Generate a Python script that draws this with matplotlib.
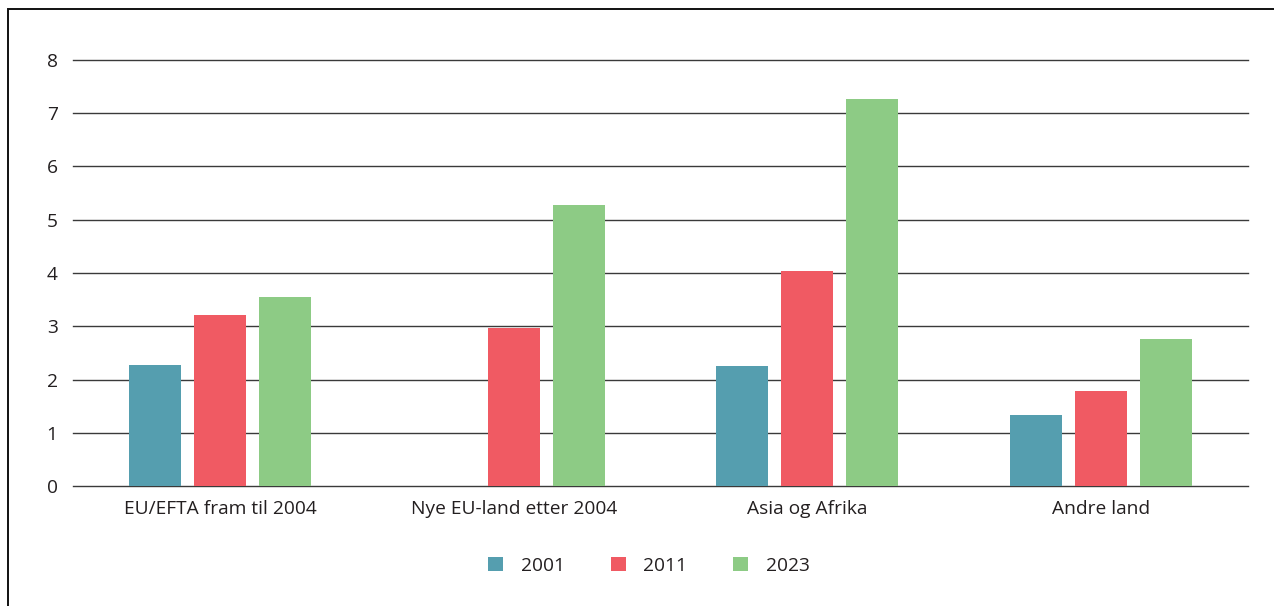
import numpy as np
import matplotlib.pyplot as plt
from matplotlib.patches import Rectangle

plt.rcParams['font.family'] = ['Open Sans', 'DejaVu Sans']

kategorier = ['EU/EFTA fram til 2004', 'Nye EU-land etter 2004', 'Asia og Afrika', 'Andre land']
aar = ['2001', '2011', '2023']
v2001 = [2.27, np.nan, 2.25, 1.33]
v2011 = [3.21, 2.97, 4.04, 1.78]
v2023 = [3.55, 5.28, 7.27, 2.76]
farger = ['#559eaf', '#f05a63', '#8dcb85']

fig = plt.figure(figsize=(12.74, 6.06), dpi=100)
ax = fig.add_axes([0.0573, 0.198, 0.9223, 0.703])

x = np.arange(len(kategorier))
bredde = 0.177
steg = 0.221
for i, (verdier, navn) in enumerate(zip([v2001, v2011, v2023], aar)):
    ax.bar(x + (i - 1) * steg, verdier, bredde, color=farger[i], label=navn, zorder=3)

ax.set_xlim(-0.5, 3.5)
ax.set_ylim(0, 8)
ax.set_yticks(range(0, 9))
ax.set_xticks(x)
ax.set_xticklabels(kategorier)
ax.yaxis.grid(True, color='#3a3a3a', linewidth=1.0, zorder=0)
for gl in ax.get_ygridlines():
    gl.set_clip_on(False)
ax.set_axisbelow(True)
for s in ax.spines.values():
    s.set_visible(False)
ax.tick_params(axis='both', length=0, labelsize=13.8, labelcolor='#231f20')
ax.tick_params(axis='y', pad=11)
ax.tick_params(axis='x', pad=10)

ax.legend(loc='upper center', bbox_to_anchor=(0.49, -0.125), ncol=3, frameon=False,
          fontsize=13.8, handlelength=0.8, handleheight=0.8, columnspacing=2.4,
          handletextpad=0.9, labelcolor='#231f20')

# ramme rundt figuren
fig.patches.append(Rectangle((8 / 1274, -0.1), 1.2, 1.1 - 9 / 606, transform=fig.transFigure,
                             fill=False, edgecolor='#111111', linewidth=1.4))

fig.savefig('out.png', dpi=100)
